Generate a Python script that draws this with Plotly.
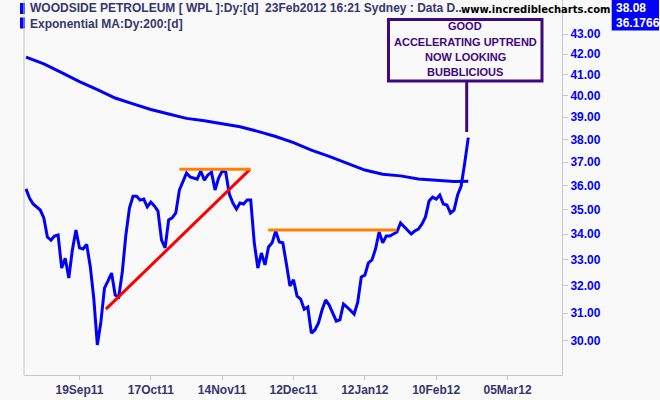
import plotly.graph_objects as go

# WPL daily close, 29Aug11 .. 23Feb12 (trading-day index 0..124)
close = [35.86, 35.47, 35.23, 35.11, 34.98, 34.66, 33.89, 33.77, 33.93, 33.97,
         32.68, 33.06, 32.30, 33.38, 34.17, 33.46, 33.42, 33.60, 32.76, 31.55,
         29.86, 30.68, 31.92, 32.19, 32.49, 31.66, 31.59, 32.53, 33.97, 35.06,
         35.55, 35.55, 35.39, 35.43, 35.11, 35.31, 35.15, 34.94, 33.77, 33.46,
         34.58, 34.66, 34.86, 35.81, 36.19, 36.53, 36.36, 36.32, 36.27, 36.62,
         36.23, 36.45, 36.57, 35.81, 36.32, 36.62, 36.57, 35.64, 35.27, 35.02,
         35.27, 35.23, 35.39, 35.39, 33.66, 32.68, 33.26, 32.80, 33.50, 33.66,
         34.13, 33.69, 33.66, 32.84, 32.00, 32.23, 31.62, 31.51, 31.14, 31.22,
         30.28, 30.39, 30.64, 31.11, 31.48, 31.29, 31.00, 30.71, 30.75, 31.33,
         31.22, 31.07, 30.96, 31.40, 32.34, 32.41, 32.88, 32.99, 33.42, 34.09,
         33.66, 33.93, 33.93, 34.01, 34.09, 34.45, 34.29, 34.13, 34.01, 34.13,
         34.21, 34.41, 34.70, 35.35, 35.51, 35.43, 35.60, 35.23, 35.19, 34.86,
         34.98, 35.60, 35.98, 36.97, 38.08]

# 200-day exponential MA, read every 5 trading days
ema_days = [0, 5, 10, 15, 20, 25, 30, 35, 40, 45, 50, 55, 60, 65, 70, 75, 80,
            85, 90, 95, 100, 105, 110, 115, 120, 124]
ema = [41.85, 41.52, 41.10, 40.67, 40.29, 39.89, 39.62, 39.36, 39.15, 38.95,
       38.84, 38.71, 38.57, 38.36, 38.13, 37.86, 37.53, 37.25, 36.97, 36.66,
       36.48, 36.41, 36.28, 36.21, 36.17, 36.1766]

# hand-drawn trend lines
trend_days = [22.4, 62.8]
trend_vals = [31.14, 36.69]
top1_days = [43.0, 63.0]
top1_vals = [36.69, 36.69]
top2_days = [67.9, 103.9]
top2_vals = [34.17, 34.17]

tick_days = [15, 35, 55, 75, 95, 115, 135]
tick_text = ["19Sep11", "17Oct11", "14Nov11", "12Dec11", "12Jan12", "10Feb12", "05Mar12"]
price_ticks = [30, 31, 32, 33, 34, 35, 36, 37, 38, 39, 40, 41, 42, 43]
note_lines = ["GOOD", "ACCELERATING UPTREND", "NOW LOOKING", "BUBBLICIOUS"]

BLUE = "#0000ff"
NAVY = "#36366e"
PURPLE = "#3f0880"
FONT = "Liberation Sans, Arial, sans-serif"

fig = go.Figure()
fig.add_trace(go.Scatter(x=ema_days, y=ema, mode="lines", line=dict(color=BLUE, width=3)))
fig.add_trace(go.Scatter(x=list(range(len(close))), y=close, mode="lines",
                         line=dict(color=BLUE, width=3)))
fig.add_trace(go.Scatter(x=trend_days, y=trend_vals, mode="lines", line=dict(color="#ff0000", width=3)))
fig.add_trace(go.Scatter(x=top1_days, y=top1_vals, mode="lines", line=dict(color="#ff8000", width=3)))
fig.add_trace(go.Scatter(x=top2_days, y=top2_vals, mode="lines", line=dict(color="#ff8000", width=3)))

W, H = 538.0, 375.0  # plot area in px (left 24, top 0)


def px(x):
    return (x - 24) / W


def py(y):
    return (H - y) / H


shapes = [
    # annotation box and pointer
    dict(type="rect", xref="paper", yref="paper", x0=px(388.5), x1=px(542), y0=py(19.5), y1=py(81),
         line=dict(color=PURPLE, width=3), fillcolor="#f9f9f9", layer="above"),
    dict(type="line", xref="paper", yref="paper", x0=px(466.7), x1=px(466.7), y0=py(81), y1=py(132),
         line=dict(color=PURPLE, width=3)),
    # legend swatches
    dict(type="rect", xref="paper", yref="paper", x0=px(20), x1=px(25), y0=py(3), y1=py(14),
         line=dict(width=0), fillcolor=BLUE, layer="above"),
    dict(type="rect", xref="paper", yref="paper", x0=px(20), x1=px(25), y0=py(17.5), y1=py(28.5),
         line=dict(width=0), fillcolor=BLUE, layer="above"),
    # last value box
    dict(type="rect", xref="paper", yref="paper", x0=px(611.7), x1=px(659), y0=py(0), y1=py(30.5),
         line=dict(width=0), fillcolor=BLUE),
    # left frame line
    dict(type="line", xref="paper", yref="paper", x0=0, x1=0, y0=0, y1=1,
         line=dict(color="#c8c8c8", width=1)),
]

annotations = [
    dict(text="WOODSIDE PETROLEUM [ WPL ]:Dy:[d]  23Feb2012 16:21 Sydney : Data D..",
         x=px(28), y=py(8.5), xanchor="left", font=dict(size=12, color=NAVY, family=FONT, weight="bold")),
    dict(text="Exponential MA:Dy:200:[d]",
         x=px(28), y=py(24), xanchor="left", font=dict(size=12, color=NAVY, family=FONT, weight="bold")),
    dict(text="www.incrediblecharts.com",
         x=px(459), y=py(9), xanchor="left",
         font=dict(size=10, color="#000000", family="DejaVu Sans, Verdana, sans-serif", weight="bold")),
    dict(text=f"{close[-1]:.2f}", x=px(614), y=py(8), xanchor="left",
         font=dict(size=12, color="#ffffff", family=FONT, weight="bold")),
    dict(text=f"{ema[-1]:.4f}", x=px(614), y=py(23), xanchor="left",
         font=dict(size=12, color="#ffffff", family=FONT, weight="bold")),
]
for k, line in enumerate(note_lines):
    annotations.append(dict(text=line, x=px(465), y=py(26.5 + 15.3 * k),
                            font=dict(size=11, color=PURPLE, family=FONT, weight="bold")))
for a in annotations:
    a.update(xref="paper", yref="paper", showarrow=False, yanchor="middle")
    a.setdefault("xanchor", "center")

fig.update_layout(
    width=660, height=400,
    margin=dict(l=24, r=98, t=0, b=25),
    paper_bgcolor="#f9f9f9", plot_bgcolor="#f9f9f9",
    showlegend=False,
    font=dict(family=FONT),
    shapes=shapes,
    annotations=annotations,
    xaxis=dict(range=[-0.56, 150.27], tickvals=tick_days, ticktext=tick_text,
               showgrid=False, zeroline=False, showline=True, linecolor="#c8c8c8",
               ticks="outside", ticklen=4, tickcolor="#c8c8c8",
               tickfont=dict(size=12, color=NAVY, family=FONT, weight="bold")),
    yaxis=dict(type="log", side="right", range=[1.4598, 1.6508],
               tickvals=price_ticks, ticktext=[f"{v:.2f}" for v in price_ticks],
               showgrid=False, zeroline=False, showline=True, linecolor="#c8c8c8",
               ticks="outside", ticklen=5, tickcolor="#c8c8c8",
               tickfont=dict(size=12, color=BLUE, family=FONT, weight="bold")),
)

# page body has a default 8px margin; drop it so the chart sits at the window corner
fig.write_html("out.html", config={"displayModeBar": False},
               post_script="document.body.style.margin='0';")
